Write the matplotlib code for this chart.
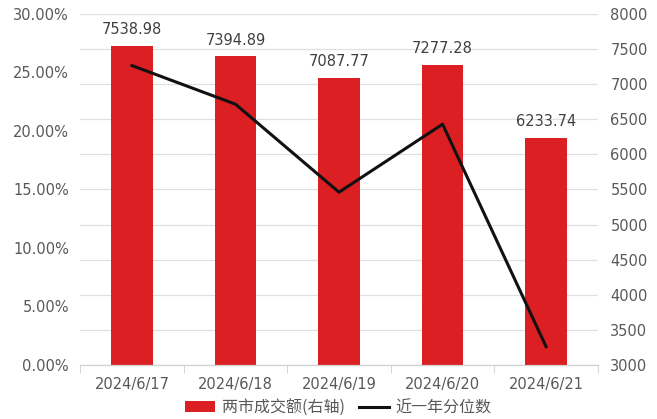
import matplotlib.pyplot as plt
from matplotlib.ticker import FuncFormatter, MultipleLocator
import numpy as np

plt.rcParams['font.family'] = ['DejaVu Sans', 'Noto Sans CJK SC']

dates = ['2024/6/17', '2024/6/18', '2024/6/19', '2024/6/20', '2024/6/21']
turnover = [7538.98, 7394.89, 7087.77, 7277.28, 6233.74]
pct = [0.2558, 0.2228, 0.1476, 0.2057, 0.0156]

grey = '#595959'
fig, ax = plt.subplots(figsize=(6.57, 4.19), dpi=100)
fig.subplots_adjust(left=0.122, right=0.91, top=0.967, bottom=0.129)
ax2 = ax.twinx()

x = np.arange(len(dates))
bars = ax2.bar(x, turnover, width=0.4, color='#DC1F22', label='两市成交额(右轴)', zorder=2)
for xi, v in zip(x, turnover):
    ax2.text(xi, v + 125, f'{v:.2f}', ha='center', va='bottom', fontsize=10.5, color='#404040')
ax2.set_ylim(3000, 8000)
ax2.yaxis.set_major_locator(MultipleLocator(500))
ax2.grid(axis='y', color='#E0E0E0', lw=0.9, zorder=0)
ax2.set_axisbelow(True)

line, = ax.plot(x, pct, color='#111111', lw=2.2, label='近一年分位数')
ax.set_ylim(0, 0.30)
ax.yaxis.set_major_locator(MultipleLocator(0.05))
ax.yaxis.set_major_formatter(FuncFormatter(lambda v, p: f'{v*100:.2f}%'))
ax.set_xlim(-0.5, 4.5)

# line over bars
ax.set_zorder(ax2.get_zorder() + 1)
ax.patch.set_visible(False)

ax.set_xticks(x)
ax.set_xticklabels(dates)
ax.set_xticks(np.arange(-0.5, 5, 1), minor=True)
ax.tick_params(axis='x', which='major', length=0, pad=9, labelsize=10.5, labelcolor=grey)
ax.tick_params(axis='x', which='minor', length=6, color='#D0D0D0')
ax.tick_params(axis='y', length=0, labelsize=10.5, labelcolor=grey, pad=8)
ax2.tick_params(axis='y', length=0, labelsize=10.5, labelcolor=grey, pad=9)

for a in (ax, ax2):
    for s in ('top', 'left', 'right'):
        a.spines[s].set_visible(False)
    a.spines['bottom'].set_color('#D0D0D0')

fig.legend([bars, line], ['两市成交额(右轴)', '近一年分位数'], loc='lower center',
           bbox_to_anchor=(0.515, -0.028), ncol=2, frameon=False,
           prop={'family': ['Noto Sans CJK SC', 'DejaVu Sans'], 'size': 11.5},
           labelcolor=grey, handlelength=1.9, handleheight=0.7, columnspacing=0.9,
           handletextpad=0.4)

fig.savefig('out.png')
